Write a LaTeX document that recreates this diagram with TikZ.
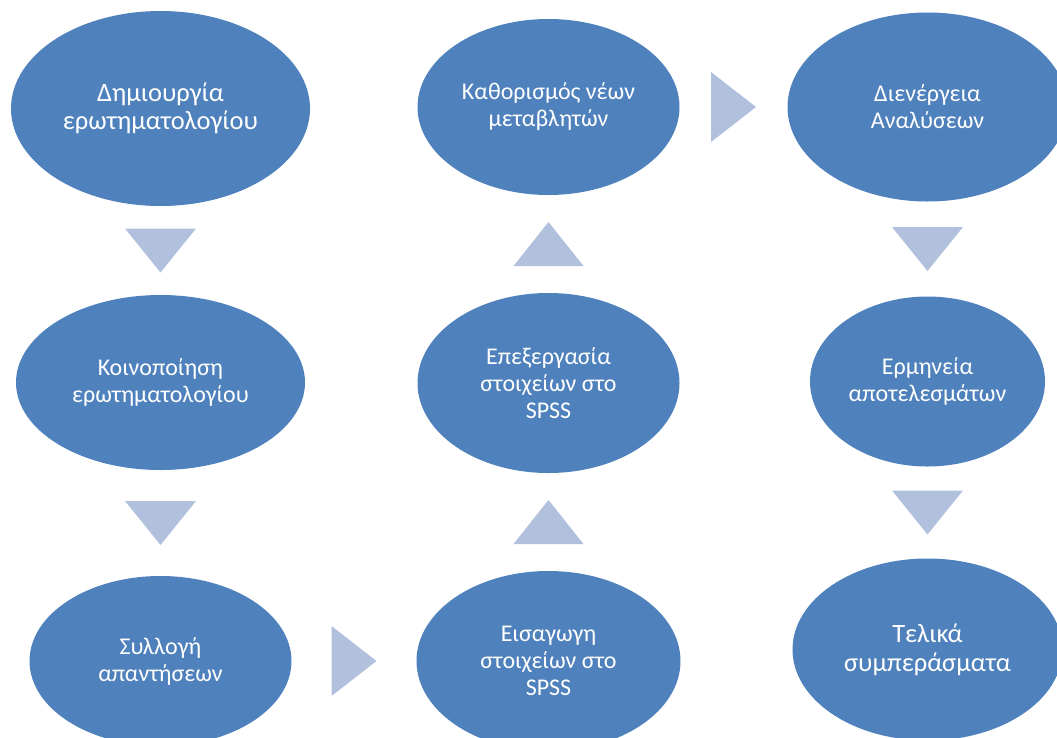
\documentclass[tikz,border=0pt]{standalone}
\usepackage{fontspec}
\setmainfont{Carlito}
\usetikzlibrary{positioning,calc,shapes.geometric}
\definecolor{stepblue}{HTML}{4F81BD}
\definecolor{tripale}{HTML}{B0C0DD}
\tikzset{
  stage/.style={ellipse, fill=stepblue, text=white, align=center, inner sep=0pt, outer sep=0pt,
    font=\fontsize{24}{27}\selectfont},
  tri/.style={fill=tripale}}

\begin{document}
\begin{tikzpicture}[x=1pt, y=1pt]
\path[use as bounding box, clip] (0,0) rectangle (1057,-737);
% first column, top to bottom
\node[stage, minimum width=299pt, minimum height=195pt, font=\fontsize{26.5}{27.5}\selectfont] (gen) at (160.5,-108.5) {Δημιουργία\\ερωτηματολογίου};
\node[stage, minimum width=289pt, minimum height=175pt, below=89pt of gen] (share) {Κοινοποίηση\\ερωτηματολογίου};
\node[stage, minimum width=262pt, minimum height=170pt, below=106pt of share] (collect) {Συλλογή\\απαντήσεων};
% second column, bottom to top
\node[stage, minimum width=264pt, minimum height=180pt, right=125pt of collect] (input) {Εισαγωγη\\στοιχείων στο\\SPSS};
\node[stage, minimum width=262pt, minimum height=180pt, above=98pt of input] (process) {Επεξεργασία\\στοιχείων στο\\SPSS};
\node[stage, minimum width=262pt, minimum height=176pt, above=98pt of process] (vars) {Καθορισμός νέων\\μεταβλητών};
% third column, top to bottom
\node[stage, minimum width=280pt, minimum height=189pt, right=108pt of vars] (run) {Διενέργεια\\Αναλύσεων};
\node[stage, minimum width=235pt, minimum height=170pt, below=95pt of run] (interp) {Ερμηνεία\\αποτελεσμάτων};
\node[stage, minimum width=270pt, minimum height=182pt, below=92pt of interp, font=\fontsize{26.5}{29}\selectfont] (final) {Τελικά\\συμπεράσματα};
% triangles between the stages
\foreach \a/\b in {gen/share, share/collect, run/interp, interp/final}
  \fill[tri] ($(\a.south)!.5!(\b.north)$) +(-35.5,22) -- +(35.5,22) -- +(0,-22) -- cycle;
\foreach \a/\b in {input/process, process/vars}
  \fill[tri] ($(\a.north)!.5!(\b.south)$) +(-35,-22) -- +(35,-22) -- +(0,22) -- cycle;
\foreach \a/\b in {collect/input, vars/run}
  \fill[tri] ($(\a.east)!.5!(\b.west)$) +(-22.5,35) -- +(-22.5,-35) -- +(22.5,0) -- cycle;
\end{tikzpicture}
\end{document}
